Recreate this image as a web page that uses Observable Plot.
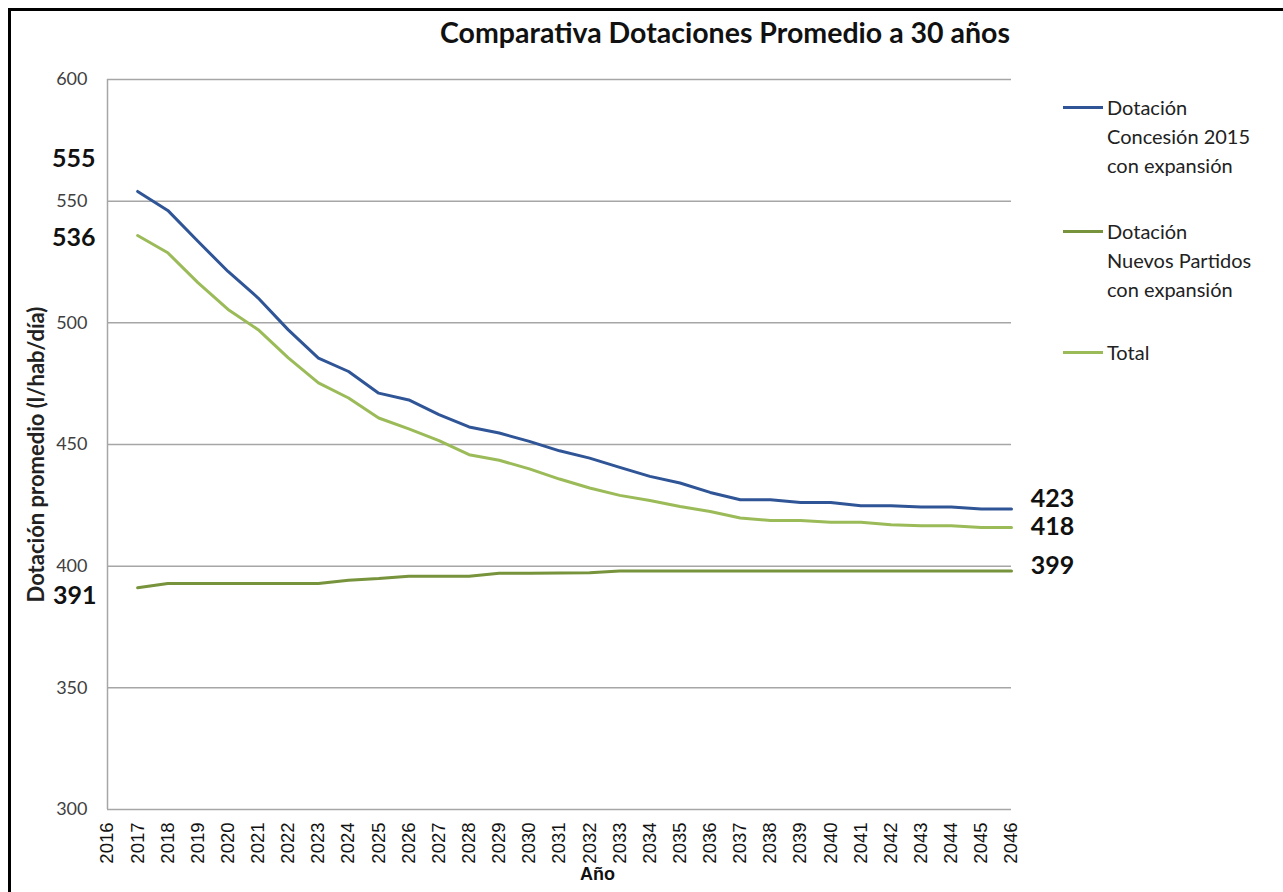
<!DOCTYPE html>
<html>
<head>
<meta charset="utf-8">
<script src="https://cdn.jsdelivr.net/npm/d3@7"></script>
<script src="https://cdn.jsdelivr.net/npm/@observablehq/plot@0.6"></script>
<style>
  html, body { margin: 0; padding: 0; background: #fff; }
  #wrap { position: relative; width: 1283px; height: 892px; overflow: hidden; }
  #frame { position: absolute; left: 8px; top: 8px; width: 1290px; height: 900px;
           border-top: 3px solid #000; border-left: 3px solid #000; box-sizing: border-box; pointer-events: none; }
  #title { position: absolute; left: 0; top: 15px; width: 1450px; text-align: center;
           font-family: Lato, "Open Sans", sans-serif; font-weight: bold; font-size: 28.5px; color: #111; }
  #legend { position: absolute; left: 1063px; top: 93px; font-family: Lato, "Open Sans", sans-serif;
            font-size: 20px; color: #222; }
  .item { position: relative; padding-left: 44px; line-height: 29px; margin-bottom: 37px; }
  .item:nth-child(2) { margin-bottom: 34px; }
  .sw { position: absolute; left: 0; top: 13px; width: 40px; height: 3px; }
</style>
</head>
<body>
<div id="wrap">
  <div id="chart"></div>
  <div id="title"></div>
  <div id="legend"></div>
  <div id="frame"></div>
</div>
<script>
const title = "Comparativa Dotaciones Promedio a 30 años";
const yLabel = "Dotación promedio (l/hab/día)";
const xLabel = "Año";
const years = [2017,2018,2019,2020,2021,2022,2023,2024,2025,2026,2027,2028,2029,2030,2031,2032,2033,2034,2035,2036,2037,2038,2039,2040,2041,2042,2043,2044,2045,2046];
const xTicks = [2016,2017,2018,2019,2020,2021,2022,2023,2024,2025,2026,2027,2028,2029,2030,2031,2032,2033,2034,2035,2036,2037,2038,2039,2040,2041,2042,2043,2044,2045,2046];
const yTicks = [300,350,400,450,500,550,600];
const seriesNames = ["Dotación Concesión 2015 con expansión", "Dotación Nuevos Partidos con expansión", "Total"];
const legendLines = [["Dotación","Concesión 2015","con expansión"],["Dotación","Nuevos Partidos","con expansión"],["Total"]];
const seriesColors = ["#2F5597", "#77933C", "#9BBB59"];
const concesion = [554,546.2,533.5,521.1,510.2,497.1,485.5,480,471.1,468.3,462.3,457.2,454.7,451.3,447.4,444.4,440.6,436.9,434.2,430.3,427.3,427.3,426.2,426.2,424.8,424.8,424.3,424.3,423.5,423.5];
const nuevos = [391.1,392.9,392.9,392.9,392.9,392.9,392.9,394.2,394.9,395.9,395.9,395.9,397.1,397.1,397.2,397.3,398,398,398,398,398,398,398,398,398,398,398,398,398,398];
const total = [535.9,528.8,516.5,505.5,497.2,485.6,475.3,469.1,460.9,456.4,451.6,445.8,443.5,440,435.8,432.1,429.1,427,424.5,422.5,419.8,418.8,418.8,418,418,417,416.6,416.6,415.9,415.9];
// value labels: text, anchored to the series point of that year
const valueLabels = [
  {text: "555", year: 2017, value: 554, dx: -64, dy: -32},
  {text: "536", year: 2017, value: 535.9, dx: -64, dy: 3},
  {text: "391", year: 2017, value: 391.1, dx: -63, dy: 8},
  {text: "423", year: 2046, value: 423.5, dx: 41, dy: -10},
  {text: "418", year: 2046, value: 415.9, dx: 41, dy: 0},
  {text: "399", year: 2046, value: 398, dx: 41, dy: -5}
];

const values = [concesion, nuevos, total];
const data = [];
seriesNames.forEach((s, k) => years.forEach((yr, i) => data.push({series: s, year: yr, value: values[k][i]})));

document.getElementById("title").textContent = title;
const leg = document.getElementById("legend");
legendLines.forEach((lines, k) => {
  const d = document.createElement("div");
  d.className = "item";
  d.innerHTML = `<span class="sw" style="background:${seriesColors[k]}"></span>` + lines.join("<br>");
  leg.appendChild(d);
});

const labelMarks = valueLabels.map(l => Plot.text([l], {
  x: "year", y: "value", text: "text", dx: l.dx, dy: l.dy,
  fontSize: 25, fontWeight: "bold", fill: "#111", fontFamily: "Lato, sans-serif"
}));

const plot = Plot.plot({
  width: 1283,
  height: 892,
  marginLeft: 107,
  marginRight: 272,
  marginTop: 79,
  marginBottom: 83,
  style: {fontFamily: "Lato, sans-serif", background: "transparent"},
  x: {domain: [2016, 2046]},
  y: {domain: [300, 600]},
  color: {domain: seriesNames, range: seriesColors},
  marks: [
    Plot.ruleY(yTicks.filter(d => d > 300), {stroke: "#a6a6a6", strokeWidth: 1.5}),
    Plot.ruleX([2016], {stroke: "#a6a6a6", strokeWidth: 1.5}),
    Plot.ruleY([300], {stroke: "#a6a6a6", strokeWidth: 1.5}),
    Plot.axisY({ticks: yTicks, tickSize: 0, tickPadding: 20, fontSize: 18, fill: "#404040", label: null}),
    Plot.axisX({ticks: xTicks, tickFormat: d => String(d), tickRotate: -90, tickSize: 0, tickPadding: 13,
                fontSize: 18.5, fontFamily: "'Liberation Sans', Arial, sans-serif", fill: "#111", label: null}),
    Plot.line(data, {x: "year", y: "value", z: "series", stroke: "series", strokeWidth: 3, curve: "linear"}),
    ...labelMarks,
    Plot.text([yLabel], {frameAnchor: "left", textAnchor: "middle", dx: -71, dy: 10, rotate: -90, text: d => d,
              fontSize: 22, fontWeight: "bold", fill: "#222", fontFamily: "Lato, sans-serif"}),
    Plot.text([xLabel], {frameAnchor: "bottom", dx: 38, dy: 70, text: d => d, fontSize: 18, fontWeight: "bold",
              fill: "#111", fontFamily: "'Liberation Sans Narrow', 'Liberation Sans', sans-serif"})
  ]
});
document.getElementById("chart").appendChild(plot);
</script>
</body>
</html>
